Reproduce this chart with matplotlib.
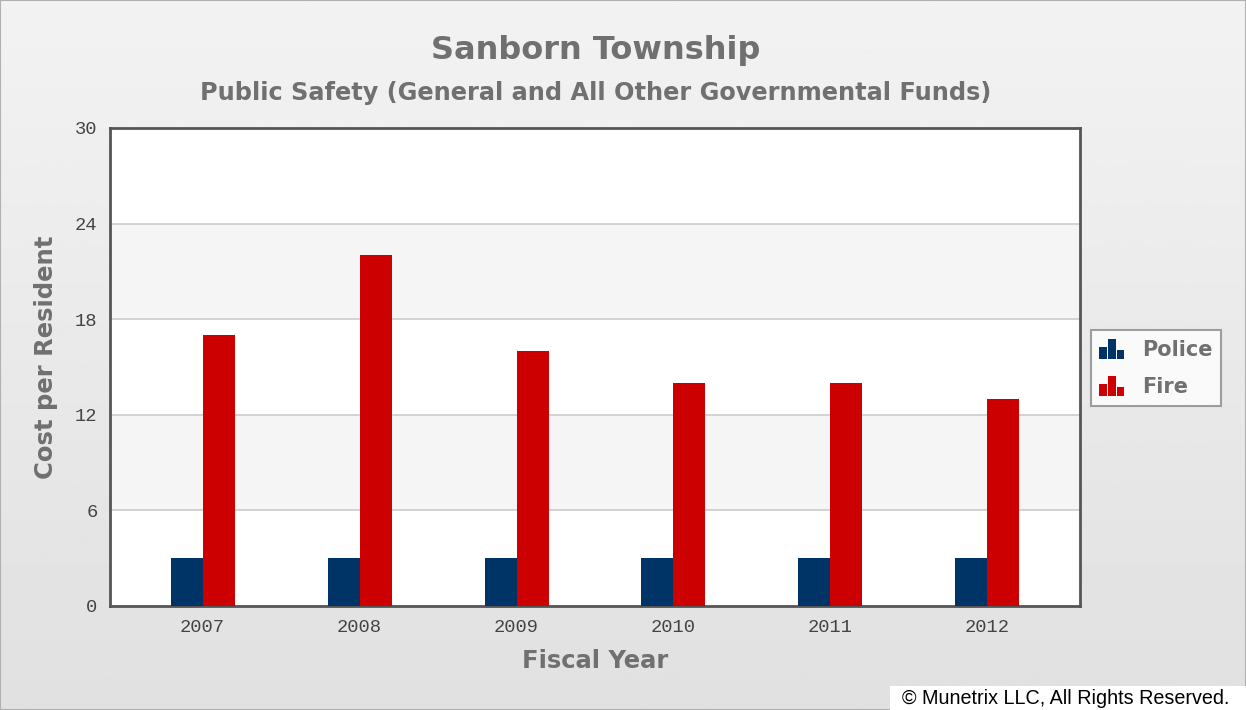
import matplotlib
matplotlib.use("Agg")
import matplotlib.pyplot as plt
import matplotlib.patches as mpatches
from matplotlib.legend_handler import HandlerBase
import numpy as np

years = ['2007', '2008', '2009', '2010', '2011', '2012']
police = [3, 3, 3, 3, 3, 3]
fire = [17, 22, 16, 14, 14, 13]
yticks = [0, 6, 12, 18, 24, 30]

policeColor = '#003366'
fireColor = '#cc0000'
textGrey = '#707070'


class BarIconHandler(HandlerBase):
    # little three-bar icon like the original legend
    def create_artists(self, legend, orig_handle, xdescent, ydescent, width, height, fontsize, trans):
        color = orig_handle.get_facecolor()
        bw = width / 3.2
        heights = [0.6, 1.0, 0.45]
        arts = []
        for i, h in enumerate(heights):
            r = mpatches.Rectangle((-xdescent + i * bw * 1.1, -ydescent), bw, height * h,
                                   facecolor=color, edgecolor='none', transform=trans)
            arts.append(r)
        return arts


fig = plt.figure(figsize=(12.46, 7.10), dpi=100)

# background gradient
bg = fig.add_axes([0, 0, 1, 1], zorder=-10)
grad = np.linspace(0.95, 0.88, 256).reshape(-1, 1)
bg.imshow(grad, aspect='auto', cmap='gray', vmin=0, vmax=1, extent=[0, 1, 0, 1])
bg.set_xlim(0, 1)
bg.set_ylim(0, 1)
bg.axis('off')
fig.patches.append(mpatches.Rectangle((0, 0), 1, 1, transform=fig.transFigure,
                                      fill=False, edgecolor='#b0b0b0', linewidth=1.5))

W, H = 1246, 710
ax = fig.add_axes([110 / W, 1 - 606 / H, 970 / W, 478 / H])
ax.set_facecolor('white')

# alternating bands
for i in range(len(yticks) - 1):
    if i % 2 == 1:
        ax.axhspan(yticks[i], yticks[i + 1], color='#f5f5f5', zorder=0, linewidth=0)
for t in yticks[1:-1]:
    ax.axhline(t, color='#cccccc', linewidth=1.2, zorder=1)

x = np.arange(len(years))
w = 0.204
b1 = ax.bar(x - w / 2, police, w, color=policeColor, zorder=3, label='Police')
b2 = ax.bar(x + w / 2, fire, w, color=fireColor, zorder=3, label='Fire')

ax.set_xlim(-0.59, len(years) - 1 + 0.59)
ax.set_ylim(0, 30)
ax.set_yticks(yticks)
ax.set_xticks(x)
ax.set_xticklabels(years)
ax.tick_params(length=0, labelsize=13.5, colors='#444444', pad=9)
for lab in ax.get_xticklabels() + ax.get_yticklabels():
    lab.set_family('Liberation Mono')
for s in ax.spines.values():
    s.set_color('#555555')
    s.set_linewidth(2)

ax.set_xlabel('Fiscal Year', fontsize=17.5, fontweight='bold', color=textGrey, labelpad=10)
ax.set_ylabel('Cost per Resident', fontsize=17.5, fontweight='bold', color=textGrey)
ax.yaxis.set_label_coords(-0.054, 0.52)

fig.text(596 / W, 1 - 51 / H, 'Sanborn Township', ha='center', va='center',
         fontsize=23, fontweight='bold', color=textGrey)
fig.text(596 / W, 1 - 93 / H, 'Public Safety (General and All Other Governmental Funds)',
         ha='center', va='center', fontsize=17.3, fontweight='bold', color=textGrey)

leg = fig.legend([b1.patches[0], b2.patches[0]], ['Police', 'Fire'],
                 handler_map={mpatches.Rectangle: BarIconHandler()},
                 loc='center left', bbox_to_anchor=(1091 / W, 1 - 368 / H),
                 fontsize=15, frameon=True, fancybox=False, handlelength=1.2,
                 handleheight=1.1, borderpad=0.4, labelspacing=0.8, handletextpad=0.85,
                 borderaxespad=0)
leg.get_frame().set_edgecolor('#888888')
leg.get_frame().set_linewidth(1.5)
leg.get_frame().set_facecolor('white')
for t in leg.get_texts():
    t.set_color(textGrey)
    t.set_fontweight('bold')

fig.patches.append(mpatches.Rectangle((890 / W, 0), 356 / W, 24 / H, transform=fig.transFigure,
                                      facecolor='white', edgecolor='none'))
fig.text(1229 / W, 1 - 698 / H, '\u00a9 Munetrix LLC, All Rights Reserved.', ha='right', va='center',
         fontsize=14.2, family='Liberation Sans', color='black')

fig.savefig('out.png', dpi=100)
